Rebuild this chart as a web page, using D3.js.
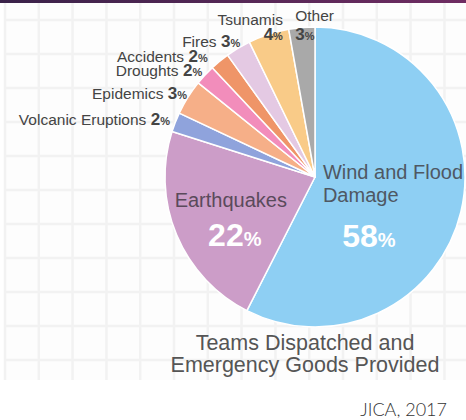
<!DOCTYPE html>
<html>
<head>
<meta charset="utf-8">
<script src="https://cdn.jsdelivr.net/npm/d3@7"></script>
<style>
  html, body { margin: 0; padding: 0; background: #fff; }
  svg { display: block; }
</style>
</head>
<body>
<div id="chart"></div>
<script>
// ---- data ----
var categories = ["Wind and Flood Damage", "Earthquakes", "Volcanic Eruptions", "Epidemics",
                  "Droughts", "Accidents", "Fires", "Tsunamis", "Other"];
var shares = [57.5, 22.4, 2.1, 3.8, 2.2, 2.1, 2.7, 4.4, 2.8];
// percentages printed on the chart
var pctLabels = [58, 22, 2, 3, 2, 2, 3, 4, 3];
var colors = ["#8ecff3", "#cc9dc8", "#8fa3dc", "#f6af88", "#f28dbb",
              "#ef9568", "#e4c9e3", "#f9cb88", "#a9a9a9"];
var titleLines = ["Teams Dispatched and", "Emergency Goods Provided"];
var source = "JICA, 2017";

var W = 466, H = 420;
var cx = 315, cy = 177, R = 150;

var svg = d3.select("#chart").append("svg")
  .attr("width", W).attr("height", H)
  .attr("font-family", "'Liberation Sans', Arial, Helvetica, sans-serif");

// ---- background: top bar + faint grid paper ----
var defs = svg.append("defs");
var grad = defs.append("linearGradient").attr("id", "bar");
grad.append("stop").attr("offset", "0%").attr("stop-color", "#3a2249");
grad.append("stop").attr("offset", "100%").attr("stop-color", "#6f2c62");

svg.append("rect").attr("x", 5).attr("y", 3).attr("width", W - 5).attr("height", 377)
  .attr("fill", "#fdfdfd");
var grid = svg.append("g").attr("stroke", "#f2f2f2").attr("stroke-width", 2.5);
grid.selectAll("line.v").data(d3.range(5, W, 33.8)).enter().append("line")
  .attr("x1", function (d) { return d; }).attr("x2", function (d) { return d; })
  .attr("y1", 3).attr("y2", 380);
grid.selectAll("line.h").data(d3.range(20, 380, 34)).enter().append("line")
  .attr("x1", 5).attr("x2", W)
  .attr("y1", function (d) { return d; }).attr("y2", function (d) { return d; });
svg.append("rect").attr("x", 0).attr("y", 0).attr("width", W).attr("height", 3)
  .attr("fill", "url(#bar)");

// ---- pie ----
var slices = categories.map(function (c, i) {
  return { name: c, value: shares[i], pct: pctLabels[i], color: colors[i], i: i };
});
var pie = d3.pie().sort(null).value(function (d) { return d.value; });
var arcs = pie(slices);
var arc = d3.arc().innerRadius(0).outerRadius(R);

var g = svg.append("g").attr("transform", "translate(" + cx + "," + cy + ")");
g.selectAll("path").data(arcs).enter().append("path")
  .attr("d", arc)
  .attr("fill", function (d) { return d.data.color; })
  .attr("stroke", "#fff").attr("stroke-width", 1.5).attr("stroke-linejoin", "round");

function polar(a, r) { return [Math.sin(a) * r, -Math.cos(a) * r]; }
function mid(d) { return (d.startAngle + d.endAngle) / 2; }

var labColor = "#444";

// ---- outside single-line labels: "Name N%" end-anchored at the rim ----
var lineNudge = { 2: [2, 0], 3: [6, 0], 4: [3, 0.5], 5: [-7, 1.5], 6: [6, 0] };
arcs.forEach(function (d) {
  var i = d.data.i;
  if (!(i in lineNudge)) return;
  var p = polar(mid(d), 158);
  var t = g.append("text")
    .attr("x", p[0] + lineNudge[i][0]).attr("y", p[1] + 5.5 + lineNudge[i][1])
    .attr("text-anchor", "end").attr("fill", labColor);
  t.append("tspan").attr("font-size", 15.5).text(d.data.name + " ");
  t.append("tspan").attr("font-size", 17).attr("font-weight", "bold").text(d.data.pct);
  t.append("tspan").attr("font-size", 11).attr("font-weight", "bold").text("%");
});

// ---- stacked labels at the top (name above, number over the slice) ----
var stack = {
  7: { anchor: "end", dx: 13, dy: 2, gap: 15 },
  8: { anchor: "start", dx: -7, dy: 8.5, gap: 19 }
};
arcs.forEach(function (d) {
  var i = d.data.i;
  if (!(i in stack)) return;
  var s = stack[i];
  var p = polar(mid(d), 146);
  var x = p[0] + s.dx, yb = p[1] + s.dy;
  g.append("text").attr("x", x).attr("y", yb - s.gap)
    .attr("text-anchor", s.anchor).attr("font-size", 15.5).attr("fill", labColor)
    .text(d.data.name);
  var t = g.append("text").attr("x", x).attr("y", yb)
    .attr("text-anchor", s.anchor).attr("fill", labColor).attr("font-weight", "bold");
  t.append("tspan").attr("font-size", 17).text(d.data.pct);
  t.append("tspan").attr("font-size", 11).text("%");
});

// ---- inside labels for the two big slices ----
function bigPct(x, y, v) {
  var t = g.append("text").attr("x", x).attr("y", y).attr("text-anchor", "middle")
    .attr("fill", "#fff").attr("font-weight", "bold");
  t.append("tspan").attr("font-size", 32).text(v);
  t.append("tspan").attr("font-size", 20).text("%");
}
// wind and flood
var cw = arc.centroid(arcs[0]);
g.append("text").attr("x", cw[0] - 65).attr("y", cw[1] - 16)
  .attr("font-size", 20).attr("fill", "#4f5863").text("Wind and Flood");
g.append("text").attr("x", cw[0] - 65).attr("y", cw[1] + 7)
  .attr("font-size", 20).attr("fill", "#4f5863").text("Damage");
bigPct(cw[0] - 19, cw[1] + 52, arcs[0].data.pct);
// earthquakes
var ce = arc.centroid(arcs[1]);
g.append("text").attr("x", ce[0] - 15).attr("y", ce[1] + 1).attr("text-anchor", "middle")
  .attr("font-size", 20).attr("fill", "#5a4a5b").text(arcs[1].data.name);
bigPct(ce[0] - 11, ce[1] + 40, arcs[1].data.pct);

// ---- title under the pie + source ----
svg.append("g").selectAll("text").data(titleLines).enter().append("text")
  .attr("x", 305).attr("y", function (d, i) { return 350 + i * 21.5; })
  .attr("text-anchor", "middle").attr("font-size", 21.5).attr("fill", "#555")
  .text(function (d) { return d; });

svg.append("text").attr("x", 447).attr("y", 416).attr("text-anchor", "end")
  .attr("font-family", "Lato, 'Open Sans', sans-serif").attr("font-weight", 300)
  .attr("font-size", 18).attr("fill", "#333").text(source);
</script>
</body>
</html>
